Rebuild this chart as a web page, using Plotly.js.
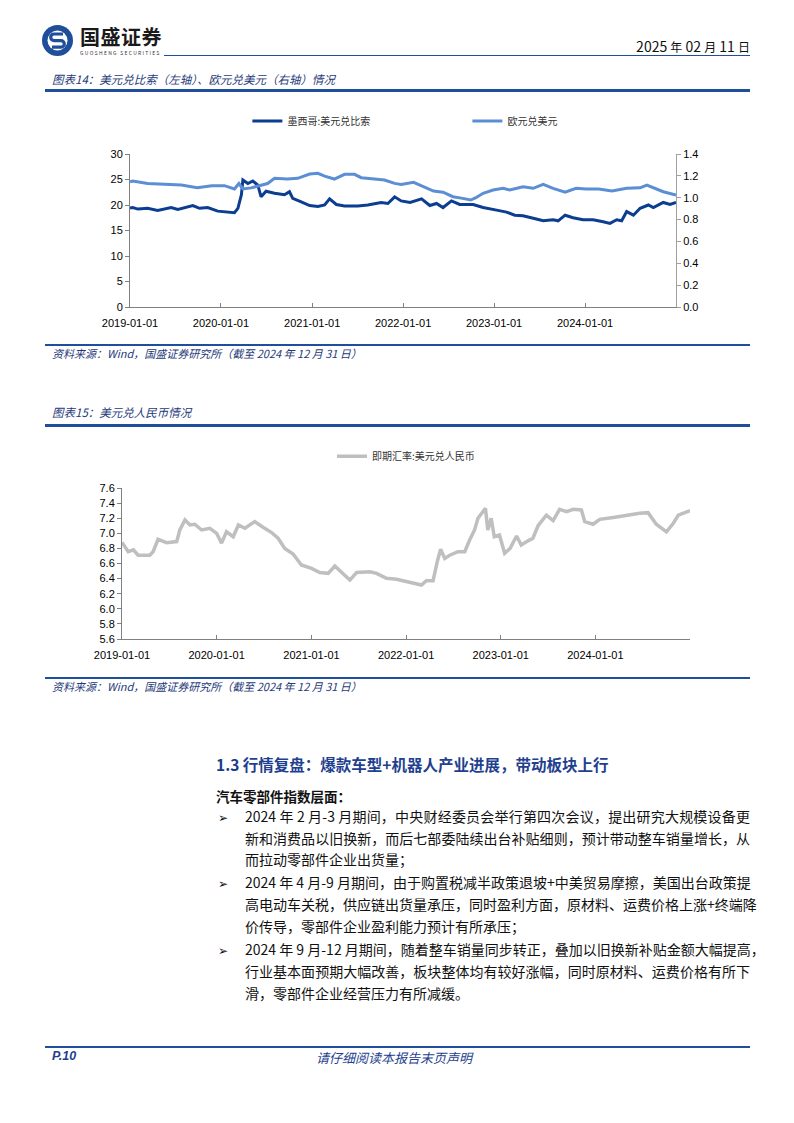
<!DOCTYPE html>
<html><head><meta charset="utf-8">
<script src="https://cdn.plot.ly/plotly-3.0.1.min.js"></script>
<style>
body{margin:0;background:#fff;font-family:"Noto Sans CJK SC","Noto Sans",sans-serif;}
#page{position:relative;width:794px;height:1123px;overflow:hidden;}
.abs{position:absolute;}
.rule{position:absolute;background:#1F4E9A;}
.cap{position:absolute;left:52px;font-size:11.5px;font-style:italic;color:#1F3A7A;white-space:nowrap;}
.src{position:absolute;left:52px;font-size:11px;font-style:italic;color:#1F3A7A;white-space:nowrap;}
.ln{position:absolute;left:245px;width:505px;font-size:14px;line-height:18px;color:#111;text-align:justify;text-align-last:justify;white-space:nowrap;}
.ln.last{text-align-last:left;}
.bul{position:absolute;left:218px;font-size:12px;color:#111;}
</style></head>
<body><div id="page">
<!-- header -->
<svg class="abs" style="left:41px;top:24px" width="33" height="33" viewBox="0 0 33 33">
 <circle cx="16.5" cy="16.5" r="15.5" fill="#1F4E9A"/>
 <circle cx="16.5" cy="16.5" r="10" fill="#fff"/>
 <path d="M22 10 H13 a3.3 3.3 0 0 0 0 6.6 h7 a3.3 3.3 0 0 1 0 6.6 H11" stroke="#1F4E9A" stroke-width="3.2" fill="none"/>
</svg>
<div class="abs" style="left:80px;top:26px;font-size:20px;line-height:22px;font-weight:bold;color:#1a1a1a;letter-spacing:0.5px;">国盛证券</div>
<div class="abs" style="left:80px;top:50px;font-size:5px;line-height:5px;letter-spacing:1.3px;color:#333;">GUOSHENG SECURITIES</div>
<div class="abs" style="right:44px;top:36px;font-size:14px;color:#111;white-space:nowrap;">2025 <span style="font-size:12px">年</span> 02 <span style="font-size:12px">月</span> 11 <span style="font-size:12px">日</span></div>
<div class="rule" style="left:164px;top:55px;width:586px;height:1.2px;"></div>

<div class="cap" style="top:71px;">图表14：美元兑比索（左轴）、欧元兑美元（右轴）情况</div>
<div class="rule" style="left:45px;top:89px;width:705px;height:2.5px;"></div>
<div id="c1" class="abs" style="left:0;top:100px;width:794px;height:240px;"></div>
<div class="rule" style="left:45px;top:344px;width:705px;height:2px;"></div>
<div class="src" style="top:345px;">资料来源：Wind，国盛证券研究所（截至 2024 年 12 月 31 日）</div>

<div class="cap" style="top:404px;">图表15：美元兑人民币情况</div>
<div class="rule" style="left:45px;top:424px;width:705px;height:2.5px;"></div>
<div id="c2" class="abs" style="left:0;top:430px;width:794px;height:240px;"></div>
<div class="rule" style="left:45px;top:677px;width:705px;height:2px;"></div>
<div class="src" style="top:678px;">资料来源：Wind，国盛证券研究所（截至 2024 年 12 月 31 日）</div>

<div class="abs" style="left:216px;top:753px;font-size:15.5px;font-weight:bold;color:#1F3F8F;white-space:nowrap;"><span style="color:#1B3C87">1.3</span> 行情复盘：爆款车型+机器人产业进展，带动板块上行</div>
<div class="abs" style="left:216px;top:786px;font-size:13.5px;font-weight:bold;color:#111;">汽车零部件指数层面：</div>

<div class="bul" style="top:808px;">➢</div>
<div class="ln" style="top:807px;">2024 年 2 月-3 月期间，中央财经委员会举行第四次会议，提出研究大规模设备更</div>
<div class="ln" style="top:829px;">新和消费品以旧换新，而后七部委陆续出台补贴细则，预计带动整车销量增长，从</div>
<div class="ln last" style="top:850px;">而拉动零部件企业出货量；</div>
<div class="bul" style="top:874px;">➢</div>
<div class="ln" style="top:873px;">2024 年 4 月-9 月期间，由于购置税减半政策退坡+中美贸易摩擦，美国出台政策提</div>
<div class="ln" style="top:895px;">高电动车关税，供应链出货量承压，同时盈利方面，原材料、运费价格上涨+终端降</div>
<div class="ln last" style="top:917px;">价传导，零部件企业盈利能力预计有所承压；</div>
<div class="bul" style="top:941px;">➢</div>
<div class="ln" style="top:940px;">2024 年 9 月-12 月期间，随着整车销量同步转正，叠加以旧换新补贴金额大幅提高，</div>
<div class="ln" style="top:962px;">行业基本面预期大幅改善，板块整体均有较好涨幅，同时原材料、运费价格有所下</div>
<div class="ln last" style="top:984px;">滑，零部件企业经营压力有所减缓。</div>

<div class="rule" style="left:45px;top:1046px;width:705px;height:1.5px;"></div>
<div class="abs" style="left:52px;top:1049px;font-size:12.5px;font-weight:bold;font-style:italic;color:#1F3F8F;font-family:'Liberation Sans',sans-serif;">P.10</div>
<div class="abs" style="left:316px;top:1048px;font-size:13px;font-style:italic;color:#1F3F8F;">请仔细阅读本报告末页声明</div>
</div>
<script>
// ---- Chart 1 data ----
const mxnDates = ["2019-01-01","2019-01-12","2019-02-02","2019-03-13","2019-04-22","2019-06-15","2019-07-12","2019-09-10","2019-10-07","2019-11-09","2019-12-19","2020-01-29","2020-02-24","2020-03-09","2020-03-23","2020-03-29","2020-04-18","2020-05-08","2020-05-28","2020-06-10","2020-06-30","2020-08-03","2020-09-12","2020-10-02","2020-10-15","2020-11-18","2020-12-22","2021-01-24","2021-02-20","2021-03-12","2021-04-08","2021-05-11","2021-07-03","2021-08-12","2021-10-05","2021-11-01","2021-11-28","2021-12-24","2022-01-29","2022-03-16","2022-04-18","2022-05-15","2022-06-10","2022-07-14","2022-08-16","2022-10-09","2022-11-18","2023-01-11","2023-02-20","2023-03-25","2023-04-27","2023-06-07","2023-07-17","2023-08-26","2023-09-15","2023-10-13","2023-11-14","2023-12-24","2024-02-02","2024-03-14","2024-04-10","2024-05-07","2024-05-27","2024-06-16","2024-07-13","2024-08-09","2024-09-11","2024-10-01","2024-11-10","2024-12-07","2024-12-31"];
const mxnValues = [19.4,19.5,19.2,19.35,18.95,19.5,19.15,19.9,19.35,19.5,18.8,18.7,18.5,19.35,22.0,24.9,24.2,24.7,23.9,21.6,22.7,22.3,22.0,22.6,21.3,20.6,19.9,19.7,20.0,21.2,20.1,19.8,19.8,20.0,20.5,20.3,21.6,20.8,20.5,21.2,19.9,20.3,19.5,20.8,20.1,20.1,19.5,19.0,18.6,18.0,17.9,17.4,16.9,17.1,16.9,18.0,17.5,17.1,17.1,16.7,16.4,17.1,16.9,18.7,18.0,19.35,20.0,19.5,20.5,20.1,20.5];
const eurDates = ["2019-01-01","2019-01-12","2019-03-13","2019-05-24","2019-07-26","2019-09-28","2019-11-25","2020-01-15","2020-02-24","2020-03-13","2020-03-29","2020-05-01","2020-06-03","2020-07-06","2020-08-03","2020-09-24","2020-11-04","2020-12-22","2021-01-24","2021-02-20","2021-03-31","2021-05-11","2021-06-20","2021-07-17","2021-09-08","2021-10-18","2021-11-28","2021-12-24","2022-02-12","2022-03-24","2022-05-03","2022-06-10","2022-07-20","2022-08-28","2022-09-29","2022-10-20","2022-11-18","2022-12-28","2023-02-06","2023-03-05","2023-04-27","2023-06-07","2023-07-17","2023-08-26","2023-10-13","2023-11-26","2024-01-05","2024-02-25","2024-04-18","2024-06-16","2024-08-09","2024-09-05","2024-10-01","2024-11-10","2024-12-31"];
const eurValues = [1.145,1.153,1.131,1.122,1.116,1.092,1.11,1.11,1.08,1.13,1.08,1.09,1.11,1.13,1.177,1.171,1.177,1.217,1.223,1.198,1.171,1.214,1.214,1.183,1.171,1.162,1.131,1.122,1.141,1.10,1.061,1.05,1.009,0.994,0.979,1.0,1.04,1.07,1.086,1.07,1.10,1.086,1.122,1.086,1.05,1.086,1.08,1.08,1.061,1.086,1.091,1.116,1.091,1.055,1.025];
const mxnName = "墨西哥:美元兑比索";
const eurName = "欧元兑美元";
// ---- Chart 2 data ----
const cnyDates = ["2019-01-01","2019-01-25","2019-02-14","2019-03-04","2019-04-18","2019-05-01","2019-05-20","2019-06-22","2019-07-31","2019-08-12","2019-09-01","2019-09-20","2019-10-09","2019-11-04","2019-12-06","2020-01-01","2020-01-20","2020-02-08","2020-03-05","2020-03-25","2020-04-19","2020-05-27","2020-06-28","2020-07-31","2020-08-25","2020-09-20","2020-10-22","2020-11-23","2021-01-01","2021-02-02","2021-03-06","2021-04-01","2021-05-04","2021-05-29","2021-06-24","2021-08-14","2021-09-09","2021-10-17","2021-11-25","2022-01-09","2022-03-01","2022-03-20","2022-04-15","2022-05-01","2022-05-14","2022-05-30","2022-06-18","2022-07-20","2022-08-15","2022-09-03","2022-09-22","2022-10-05","2022-10-18","2022-11-03","2022-11-12","2022-11-25","2022-12-07","2022-12-27","2023-01-16","2023-02-06","2023-03-03","2023-03-21","2023-04-16","2023-05-05","2023-05-25","2023-06-26","2023-07-22","2023-08-16","2023-09-12","2023-10-07","2023-11-08","2023-11-21","2023-12-23","2024-01-18","2024-03-10","2024-04-30","2024-06-20","2024-07-22","2024-08-23","2024-10-01","2024-10-27","2024-11-16","2024-12-31"];
const cnyValues = [6.88,6.756,6.78,6.71,6.71,6.756,6.92,6.876,6.89,7.044,7.176,7.11,7.12,7.044,7.066,7.0,6.87,7.02,6.955,7.11,7.066,7.154,7.08,7.01,6.934,6.80,6.726,6.58,6.536,6.48,6.47,6.567,6.46,6.38,6.48,6.49,6.47,6.404,6.39,6.36,6.315,6.372,6.372,6.624,6.788,6.668,6.71,6.756,6.756,6.91,7.044,7.20,7.265,7.33,7.044,7.20,6.955,6.977,6.735,6.80,6.964,6.845,6.90,6.934,7.10,7.24,7.167,7.318,7.286,7.318,7.31,7.154,7.12,7.185,7.21,7.24,7.265,7.273,7.12,7.02,7.13,7.24,7.30];
const cnyName = "即期汇率:美元兑人民币";

const tickFont = {family:"Liberation Sans, Arial, sans-serif", size:11, color:"#000"};
const legFont = {family:"Noto Sans CJK SC, sans-serif", size:10, color:"#333"};
const xaxisBase = {type:"date", range:["2019-01-01","2024-12-31"], tick0:"2019-01-01", dtick:"M12", tickformat:"%Y-%m-%d",
  showline:true, linecolor:"#808080", linewidth:1, ticks:"inside", ticklen:4, tickcolor:"#808080", ticklabelstandoff:6,
  showgrid:false, zeroline:false, tickfont:tickFont, fixedrange:true};

Plotly.newPlot("c1", [
  {x:mxnDates, y:mxnValues, name:mxnName, type:"scatter", mode:"lines", line:{color:"#0B3D91", width:3}, yaxis:"y"},
  {x:eurDates, y:eurValues, name:eurName, type:"scatter", mode:"lines", line:{color:"#5B8ED4", width:3}, yaxis:"y2"}
], {
  width:794, height:240, margin:{l:130, r:118, t:54, b:33, autoexpand:false},
  paper_bgcolor:"#fff", plot_bgcolor:"#fff",
  xaxis:xaxisBase,
  yaxis:{range:[0,30], dtick:5, showline:true, linecolor:"#808080", ticks:"outside", ticklen:4, tickcolor:"#808080", showgrid:false, zeroline:false, tickfont:tickFont},
  yaxis2:{range:[0,1.4], dtick:0.2, tickformat:".1f", overlaying:"y", side:"right", showline:true, linecolor:"#a0a0a0", ticks:"outside", ticklen:4, tickcolor:"#a0a0a0", showgrid:false, zeroline:false, tickfont:tickFont},
  showlegend:true,
  legend:{orientation:"h", x:0.215, xanchor:"left", y:1.216, yanchor:"middle", font:legFont, entrywidth:175, entrywidthmode:"pixels", bgcolor:"rgba(0,0,0,0)"}
}, {staticPlot:true});

Plotly.newPlot("c2", [
  {x:cnyDates, y:cnyValues, name:cnyName, type:"scatter", mode:"lines", line:{color:"#BFBFBF", width:3.5}}
], {
  width:794, height:240, margin:{l:122, r:104, t:58, b:31, autoexpand:false},
  paper_bgcolor:"#fff", plot_bgcolor:"#fff",
  xaxis:xaxisBase,
  yaxis:{range:[5.6,7.6], dtick:0.2, tickformat:".1f", showline:true, linecolor:"#808080", ticks:"outside", ticklen:4, tickcolor:"#808080", showgrid:false, zeroline:false, tickfont:tickFont},
  showlegend:true,
  legend:{orientation:"h", x:0.5, xanchor:"center", y:1.21, yanchor:"middle", font:legFont, bgcolor:"rgba(0,0,0,0)"}
}, {staticPlot:true});
</script>
</body></html>
